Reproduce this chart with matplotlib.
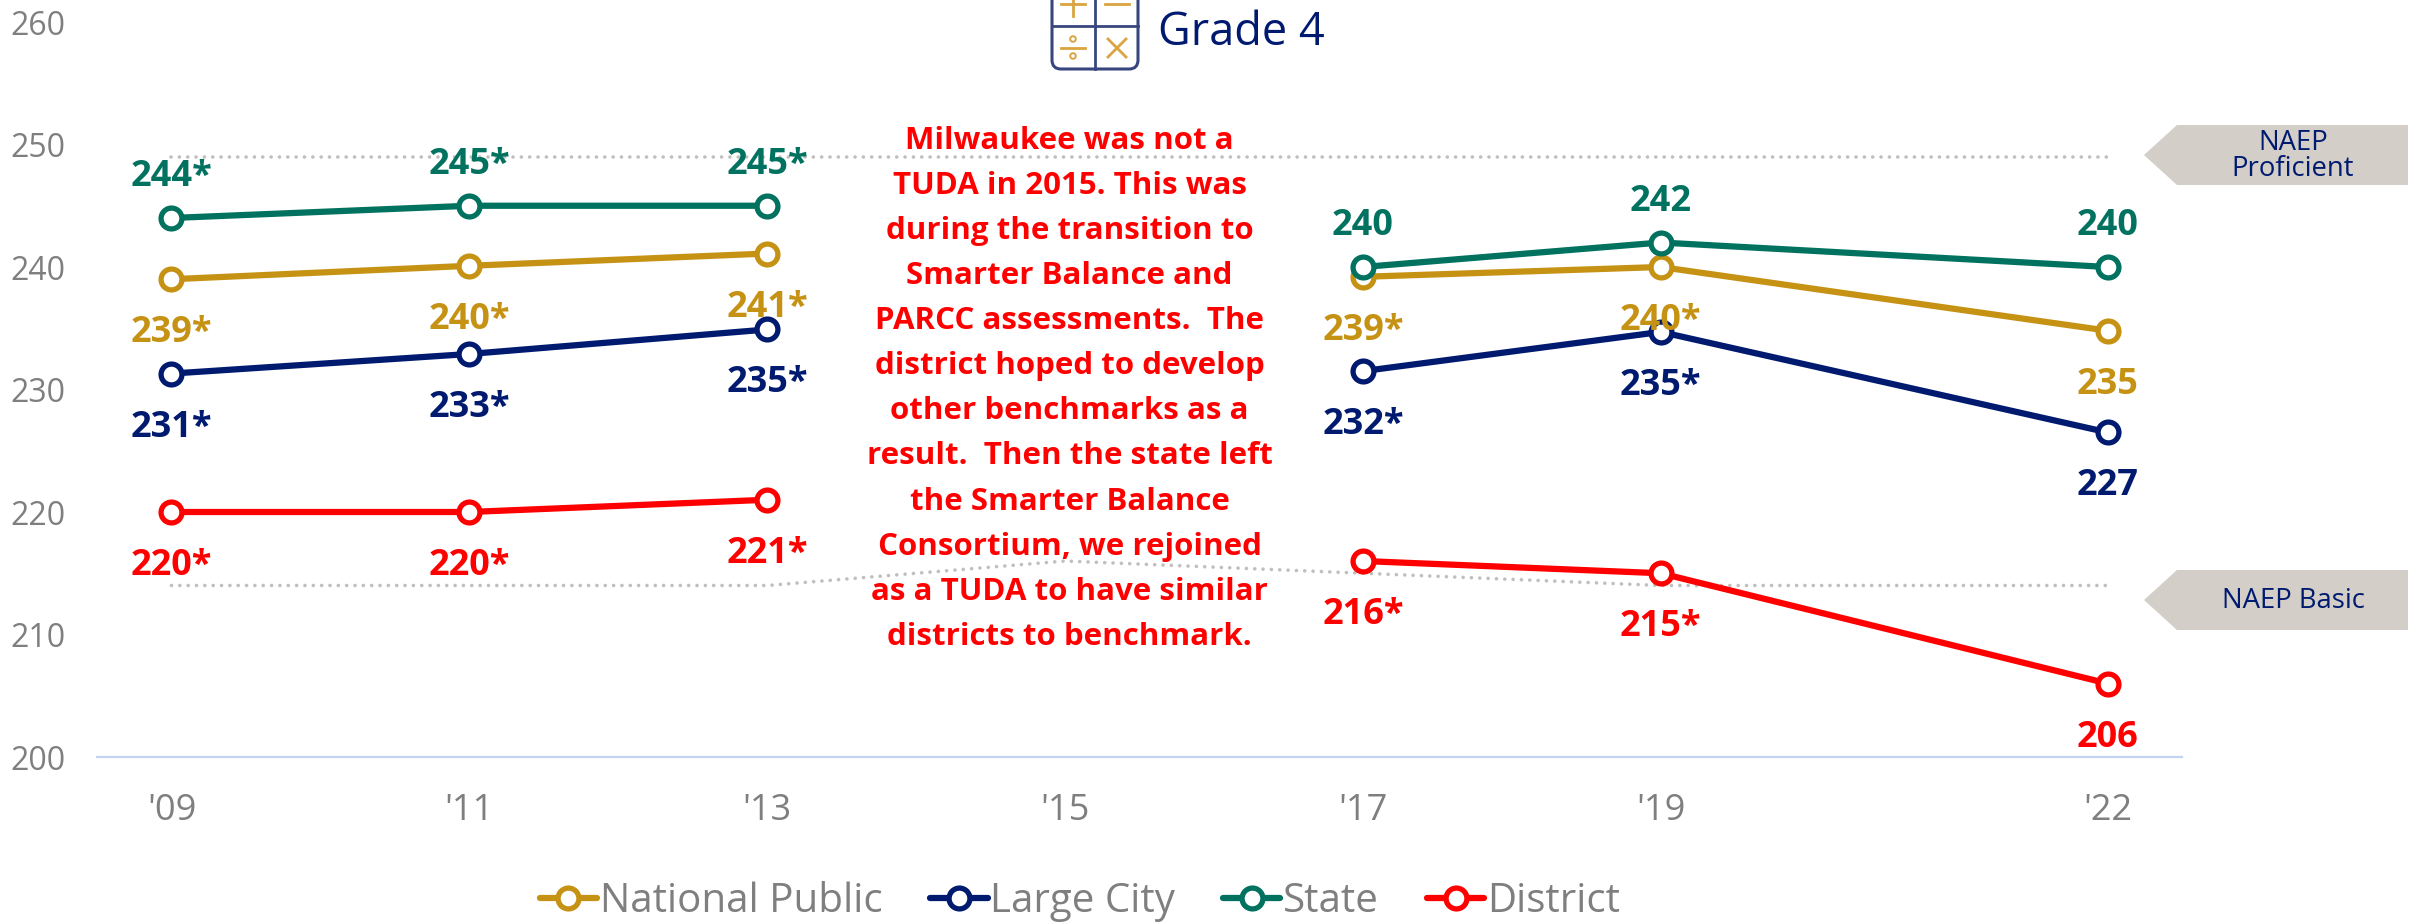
import numpy as np
import matplotlib
matplotlib.use("Agg")
import matplotlib.pyplot as plt
from matplotlib.patches import Polygon, FancyBboxPatch, Circle
from matplotlib.lines import Line2D
from matplotlib.transforms import Affine2D

plt.rcParams['font.family'] = ['Open Sans', 'DejaVu Sans']

W, H = 2415, 922

years = [2009, 2011, 2013, 2015, 2017, 2019, 2022]
year_labels = ["'09", "'11", "'13", "'15", "'17", "'19", "'22"]
y_ticks = [200, 210, 220, 230, 240, 250, 260]

national = [239, 240.1, 241.1, np.nan, 239.2, 240, 234.8]
large_city = [231.3, 232.9, 234.9, np.nan, 231.5, 234.7, 226.5]
state = [244, 245, 245, np.nan, 240, 242, 240]
district = [220, 220, 221, np.nan, 216, 215, 206]

national_labels = ["239*", "240*", "241*", "", "239*", "240*", "235"]
large_city_labels = ["231*", "233*", "235*", "", "232*", "235*", "227"]
state_labels = ["244*", "245*", "245*", "", "240", "242", "240"]
district_labels = ["220*", "220*", "221*", "", "216*", "215*", "206"]

proficient = [249, 249, 249, 249, 249, 249, 249]
basic = [214, 214, 214, 216, 215, 214, 214]

GOLD = "#C69214"
NAVY = "#001A70"
GREEN = "#00725F"
RED = "#FF0000"
GREY = "#7F7F7F"

note = ("Milwaukee was not a\nTUDA in 2015. This was\nduring the transition to\n"
        "Smarter Balance and\nPARCC assessments.  The\ndistrict hoped to develop\n"
        "other benchmarks as a\nresult.  Then the state left\nthe Smarter Balance\n"
        "Consortium, we rejoined\nas a TUDA to have similar\ndistricts to benchmark.")

fig = plt.figure(figsize=(W / 100, H / 100), dpi=100)
ax = fig.add_axes([97 / W, (H - 757) / H, (2182 - 97) / W, 735 / H])
ax.set_xlim(2008.5, 2022.5)
ax.set_ylim(200, 260)

for s in ['top', 'left', 'right']:
    ax.spines[s].set_visible(False)
ax.spines['bottom'].set_color("#C5D3F2")
ax.spines['bottom'].set_linewidth(1.6)

ax.set_xticks(years, year_labels)
ax.set_yticks(y_ticks)
ax.tick_params(axis='y', length=0, labelsize=23, labelcolor=GREY, pad=23)
ax.tick_params(axis='x', length=0, labelsize=26, labelcolor=GREY, pad=26)

for vals in (proficient, basic):
    ax.plot(years, vals, color="#BFBFBF", lw=2.6, ls=(0, (0.01, 2.3)),
            dash_capstyle='round', zorder=1)

series = [
    (national, national_labels, GOLD, -50, "National Public"),
    (large_city, large_city_labels, NAVY, -50, "Large City"),
    (state, state_labels, GREEN, 45, "State"),
    (district, district_labels, RED, -50, "District"),
]
style = dict(lw=4.5, marker='o', ms=15, mew=3.8, mfc='white', solid_capstyle='round')
handles = []
for vals, labels, color, dy, name in series:
    ax.plot(years, vals, color=color, zorder=2, **style)
    handles.append(Line2D([], [], color=color, label=name, **style))
    for x, v, t in zip(years, vals, labels):
        if t:
            ax.annotate(t, (x, v), xytext=(0, (dy - 13) * 0.72), textcoords='offset points',
                        ha='center', va='baseline', fontsize=26, fontweight='bold',
                        color=color, zorder=5)

ax.text(2015.03, 230.05, note, ha='center', va='center', color=RED, fontsize=22.5,
        fontweight='bold', linespacing=1.655, zorder=6)

leg = fig.legend(handles=handles, loc='center', bbox_to_anchor=(1080 / W, (H - 902) / H),
                 ncol=4, frameon=False, fontsize=29, labelcolor=GREY, handlelength=1.42,
                 handletextpad=0.07, columnspacing=1.19, borderpad=0, borderaxespad=0)

# everything below is placed in image pixels, y going down
px = Affine2D().scale(1, -1).translate(0, H)

# NAEP banners
for top, bottom, txt in [(125, 185, "NAEP\nProficient"), (570, 630, "NAEP Basic")]:
    mid = (top + bottom) / 2
    fig.add_artist(Polygon([(2144, mid), (2177, top), (2408, top), (2408, bottom), (2177, bottom)],
                           closed=True, fc="#D3CEC8", ec='none', transform=px))
    fig.text(2293, mid + 1, txt, transform=px, ha='center', va='center', fontsize=19.8,
             color=NAVY, linespacing=0.88)

# calculator icon, top is cut off by the image edge
ICON = "#37467F"
ICON2 = "#D9A441"
fig.add_artist(FancyBboxPatch((1052, -30), 86, 99, boxstyle="round,pad=0,rounding_size=9",
                              fc='white', ec=ICON, lw=2.2, transform=px, zorder=1.5))
icon_lines = [
    ([1052, 1138], [26, 26], ICON), ([1095, 1095], [-20, 69], ICON),
    ([1061, 1085], [4, 4], ICON2), ([1073, 1073], [-8, 16], ICON2),
    ([1105, 1129], [4, 4], ICON2), ([1061, 1085], [48, 48], ICON2),
    ([1108, 1126], [39, 57], ICON2), ([1108, 1126], [57, 39], ICON2),
]
for xs, ys, c in icon_lines:
    fig.add_artist(Line2D(xs, ys, color=c, lw=2, transform=px, zorder=2))
for cy in (39, 56):
    fig.add_artist(Circle((1073, cy), 2.8, fc='none', ec=ICON2, lw=1.4, transform=px, zorder=2))
fig.text(1158, 45, "Grade 4", transform=px, ha='left', va='baseline', fontsize=32.5, color=NAVY)

fig.savefig("out.png", dpi=100, facecolor='white')
